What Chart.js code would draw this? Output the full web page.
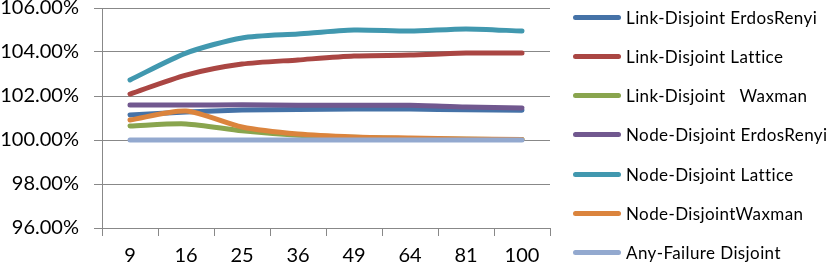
<!DOCTYPE html>
<html lang="en">

<head>
    <meta charset="UTF-8" />
    <script src="https://cdn.jsdelivr.net/npm/chart.js@4.4.0/dist/chart.umd.min.js"></script>
    <style>
        html, body { margin: 0; padding: 0; background: #fff; }
        #wrap { position: relative; width: 830px; height: 267px; }
        #legend { position: absolute; left: 573px; top: 0; font-family: Lato; font-size: 17px; letter-spacing: 0.4px; color: #000; }
        .item { position: absolute; left: 0; height: 20px; white-space: pre; display: flex; align-items: center; }
        .swatch { width: 48px; height: 5px; border-radius: 3px; margin-right: 5px; }
    </style>
</head>

<body>
    <div id="wrap">
        <canvas id="chart" width="830" height="267"></canvas>
        <div id="legend"></div>
    </div>
    <script>
        const labels = ['9', '16', '25', '36', '49', '64', '81', '100'];
        const linkErdos = [101.14, 101.27, 101.36, 101.39, 101.41, 101.41, 101.37, 101.35];
        const linkLattice = [102.09, 102.95, 103.45, 103.64, 103.82, 103.86, 103.95, 103.95];
        const linkWaxman = [100.64, 100.73, 100.42, 100.22, 100.12, 100.06, 100.03, 100.02];
        const nodeErdos = [101.59, 101.59, 101.60, 101.58, 101.58, 101.58, 101.50, 101.46];
        const nodeLattice = [102.73, 103.95, 104.64, 104.82, 105.00, 104.95, 105.05, 104.95];
        const nodeWaxman = [100.91, 101.32, 100.59, 100.27, 100.14, 100.09, 100.05, 100.02];
        const anyFailure = [100.00, 100.00, 100.00, 100.00, 100.00, 100.00, 100.00, 100.00];
        const yTicks = [96, 98, 100, 102, 104, 106];

        const series = [
            ['Link-Disjoint ErdosRenyi', linkErdos, '#4572A7'],
            ['Link-Disjoint Lattice', linkLattice, '#AA4643'],
            ['Link-Disjoint   Waxman', linkWaxman, '#89A54E'],
            ['Node-Disjoint ErdosRenyi', nodeErdos, '#71588F'],
            ['Node-Disjoint Lattice', nodeLattice, '#4198AF'],
            ['Node-DisjointWaxman', nodeWaxman, '#DB843D'],
            ['Any-Failure Disjoint', anyFailure, '#93A9CF']
        ];

        const datasets = series.map((s, i) => ({
            label: s[0],
            data: s[1],
            borderColor: s[2],
            backgroundColor: s[2],
            borderWidth: 5,
            borderCapStyle: 'round',
            borderJoinStyle: 'round',
            pointRadius: 0,
            pointHoverRadius: 0,
            tension: 0.25,
            fill: false,
            order: series.length - i   // later series drawn on top, like excel
        }));

        Chart.defaults.font.family = 'Lato';
        Chart.defaults.color = '#000';

        const ctx = document.getElementById('chart').getContext('2d');
        const myChart = new Chart(ctx, {
            type: 'line',
            data: { labels: labels, datasets: datasets },
            options: {
                responsive: false,
                animation: false,
                layout: { padding: { top: 0, right: 280, left: 0, bottom: 0 } },
                plugins: {
                    tooltip: { enabled: false },
                    legend: { display: false }
                },
                scales: {
                    x: {
                        offset: true,
                        grid: {
                            offset: true,
                            drawOnChartArea: false,
                            tickLength: 8,
                            color: '#888'
                        },
                        border: { color: '#888', width: 1 },
                        ticks: { font: { size: 20 }, padding: 8, color: '#000', maxRotation: 0 },
                        afterFit: axis => { axis.height = 39; }
                    },
                    y: {
                        min: 96,
                        max: 106,
                        afterBuildTicks: axis => { axis.ticks = yTicks.map(v => ({ value: v })); },
                        grid: { color: '#888', tickLength: 8 },
                        border: { color: '#888', width: 1 },
                        ticks: {
                            font: { size: 20 },
                            padding: 15,
                            color: '#000',
                            callback: v => v.toFixed(2) + '%'
                        },
                        afterFit: axis => {
                            axis.width = 102;
                            axis.paddingTop = 8;
                            axis.paddingBottom = 0;
                        }
                    }
                }
            }
        });

        // html legend, one row per series
        const legend = document.getElementById('legend');
        myChart.data.datasets.forEach((ds, i) => {
            const item = document.createElement('div');
            item.className = 'item';
            item.style.top = (7 + i * 39.3) + 'px';
            const sw = document.createElement('span');
            sw.className = 'swatch';
            sw.style.background = ds.borderColor;
            item.appendChild(sw);
            item.appendChild(document.createTextNode(ds.label));
            legend.appendChild(item);
        });
    </script>
</body>

</html>
